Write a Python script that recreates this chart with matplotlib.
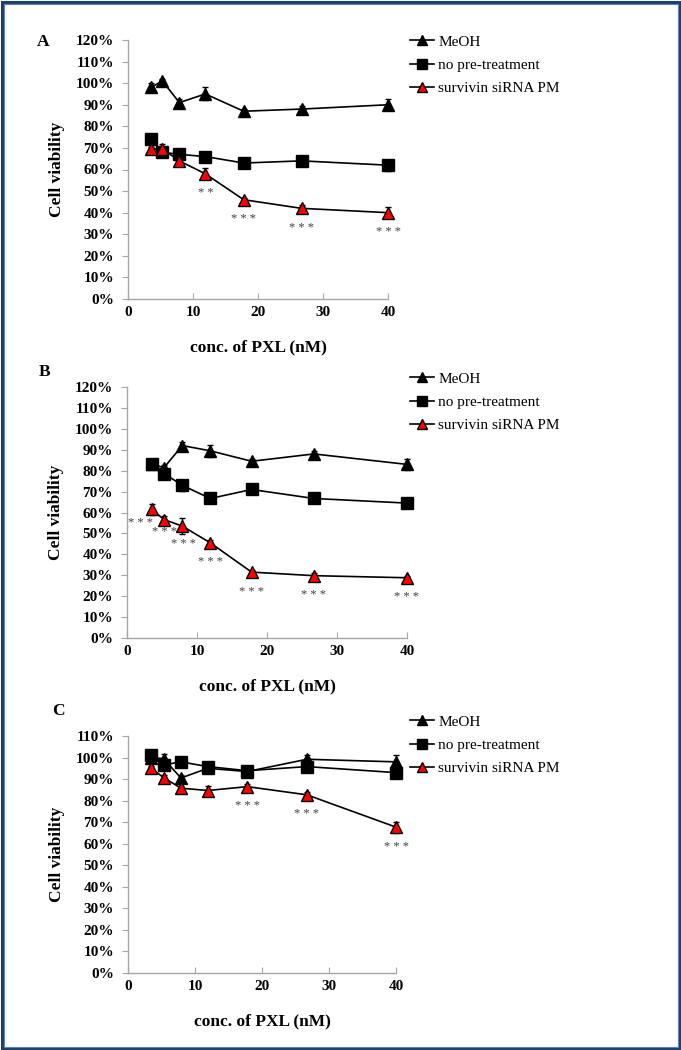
import numpy as np
import matplotlib.pyplot as plt
from matplotlib.patches import Rectangle

plt.rcParams['font.family'] = ['Liberation Serif', 'DejaVu Serif']

# concentrations of PXL (nM)
conc = [3.5, 5.3, 7.9, 11.9, 17.8, 26.7, 40]
series_names = ["MeOH", "no pre-treatment", "survivin siRNA PM"]

# panel A (cell viability, %)
a_meoh = [98, 101, 91, 95, 87, 88, 90]
a_meoh_err = [2, 1, 1.5, 3, 1, 1.5, 2.5]
a_nopre = [74, 68, 67, 66, 63, 64, 62]
a_nopre_err = [1.5, 2, 1, 1, 1, 1, 2.5]
a_sirna = [69.5, 69.5, 64, 58, 46, 42, 40]
a_sirna_err = [1, 2.5, 1.5, 2.5, 1, 1.5, 2.5]
a_stars = ["", "", "", "* *", "* * *", "* * *", "* * *"]

# panel B
b_meoh = [83, 81.5, 92, 89.5, 84.5, 88, 83]
b_meoh_err = [1, 1, 1.5, 3, 1, 1.5, 2.5]
b_nopre = [83, 78.6, 73, 66.7, 71, 66.7, 64.5]
b_nopre_err = [1.5, 2, 2.5, 1, 1, 1, 2]
b_sirna = [61.5, 56.6, 53.5, 45.5, 31.5, 29.8, 28.8]
b_sirna_err = [2.5, 1.5, 4, 1.5, 1, 1.5, 1]
b_stars = ["* * *"] * 7

# panel C
c_meoh = [100, 99.5, 90.5, 95, 93.5, 99.2, 98]
c_meoh_err = [1, 2, 1.5, 1, 1, 2, 3]
c_nopre = [101, 96.6, 98, 95.8, 93.9, 95.8, 93]
c_nopre_err = [1, 2, 1, 1.5, 1, 1.5, 2]
c_sirna = [95, 90.7, 85.8, 84.7, 86.5, 82.7, 67.7]
c_sirna_err = [1, 1, 1, 2, 1, 1.5, 2.5]
c_stars = ["", "", "", "", "* * *", "* * *", "* * *"]

W, H = 681, 1050
fig = plt.figure(figsize=(W / 100, H / 100), dpi=100)

GRAY = "#A6A6A6"


def px_rect(l, t, r, b):
    return [l / W, 1 - b / H, (r - l) / W, (b - t) / H]


def draw_panel(rect, letter, letter_xy, ymax, meoh, meoh_err, nopre, nopre_err,
               sirna, sirna_err, stars, legend_xy, star_off):
    ax = fig.add_axes(px_rect(*rect))

    for vals, errs in [(meoh, meoh_err), (nopre, nopre_err), (sirna, sirna_err)]:
        eb = ax.errorbar(conc, vals, yerr=errs, fmt="none", ecolor="black",
                         elinewidth=1, capsize=2.5, capthick=1, zorder=2)
        for art in eb.lines[1] + eb.lines[2]:
            art.set_clip_on(False)

    l1, = ax.plot(conc, meoh, color="black", lw=1.2, marker="^", ms=9,
                  mfc="black", mec="black", zorder=3, clip_on=False,
                  label=series_names[0])
    l2, = ax.plot(conc, nopre, color="black", lw=1.2, marker="s", ms=8.5,
                  mfc="black", mec="black", zorder=4, clip_on=False,
                  label=series_names[1])
    l3, = ax.plot(conc, sirna, color="black", lw=1.2, marker="^", ms=9,
                  mfc="red", mec="black", mew=1, zorder=5, clip_on=False,
                  label=series_names[2])

    for i, s in enumerate(stars):
        if s:
            ax.annotate(s, (conc[i], sirna[i]), xytext=star_off[i],
                        textcoords="offset points", ha="center", va="center",
                        fontsize=9, color="#404040")

    ax.set_xlim(0, 40)
    ax.set_ylim(0, ymax)
    ax.set_xticks(np.arange(0, 41, 10))
    ax.set_yticks(np.arange(0, ymax + 1, 10))
    ax.set_yticklabels([f"{v}%" for v in range(0, ymax + 1, 10)])
    for sp in ["top", "right"]:
        ax.spines[sp].set_visible(False)
    for sp in ["left", "bottom"]:
        ax.spines[sp].set_color(GRAY)
        ax.spines[sp].set_linewidth(1)
    ax.tick_params(axis="y", direction="out", length=4, color=GRAY,
                   labelsize=11, pad=6)
    ax.tick_params(axis="x", direction="in", length=4, color=GRAY,
                   labelsize=11, pad=5)
    for lbl in ax.get_xticklabels() + ax.get_yticklabels():
        lbl.set_fontweight("bold")

    ax.set_xlabel("conc. of PXL (nM)", fontsize=12.5, fontweight="bold",
                  labelpad=15)
    ax.set_ylabel("Cell viability", fontsize=12.5, fontweight="bold",
                  labelpad=8)

    fig.text(letter_xy[0] / W, 1 - letter_xy[1] / H, letter, fontsize=12.5,
             fontweight="bold", ha="center", va="center")

    ax.legend(handles=[l1, l2, l3], loc="upper left",
              bbox_to_anchor=(legend_xy[0] / W, 1 - legend_xy[1] / H),
              bbox_transform=fig.transFigure, frameon=False, fontsize=11,
              handlelength=1.6, handletextpad=0.25, labelspacing=0.62,
              borderpad=0, borderaxespad=0, markerscale=0.8)
    return ax


# star label offsets in points (layout only)
plain_off = [(0, -14)] * 7
b_off = [(-8, -10), (0, -9), (1, -13), (0, -14), (0, -14), (0, -14), (0, -14)]

draw_panel((128, 40, 388, 299), "A", (43, 42), 120,
           a_meoh, a_meoh_err, a_nopre, a_nopre_err, a_sirna, a_sirna_err,
           a_stars, (410, 35), plain_off)
draw_panel((127, 387, 407, 638), "B", (45, 372), 120,
           b_meoh, b_meoh_err, b_nopre, b_nopre_err, b_sirna, b_sirna_err,
           b_stars, (410, 372), b_off)
draw_panel((128, 736, 396, 973), "C", (58, 711), 110,
           c_meoh, c_meoh_err, c_nopre, c_nopre_err, c_sirna, c_sirna_err,
           c_stars, (410, 715), plain_off)

# blue frame around the whole figure
fig.patches.append(Rectangle((1.5 / W, 1.5 / H), 1 - 3 / W, 1 - 3 / H,
                             transform=fig.transFigure, fill=False,
                             edgecolor="#1F3F6B", lw=2.2))
fig.patches.append(Rectangle((3.5 / W, 3.5 / H), 1 - 7 / W, 1 - 7 / H,
                             transform=fig.transFigure, fill=False,
                             edgecolor="#5B83B8", lw=0.8))

fig.savefig("out.png", dpi=100)
